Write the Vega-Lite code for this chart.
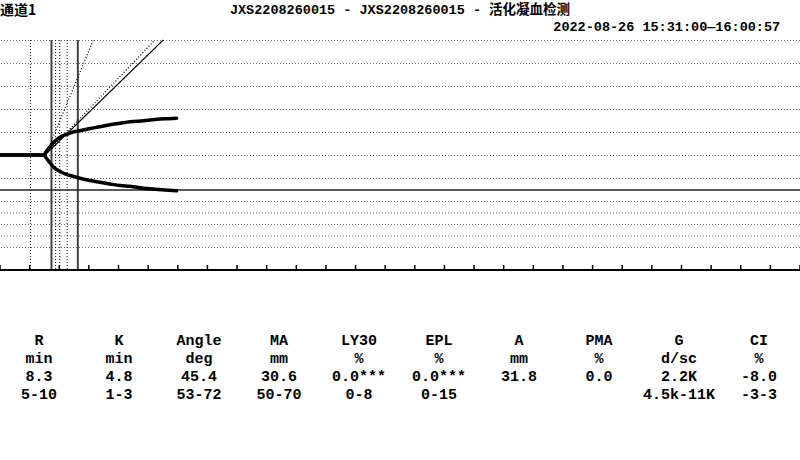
{
  "$schema": "https://vega.github.io/schema/vega-lite/v6.json",
  "width": 800,
  "height": 230,
  "autosize": "none",
  "padding": {"top": 40, "left": 0, "right": 0, "bottom": 190},
  "background": "white",
  "config": {"view": {"stroke": null}},
  "datasets": {
    "curve": [
      {"t": 0, "amp": 0, "branch": "upper"},
      {"t": 1.48, "amp": 0, "branch": "upper"},
      {"t": 1.55, "amp": 1.3, "branch": "upper"},
      {"t": 1.69, "amp": 3.6, "branch": "upper"},
      {"t": 1.82, "amp": 5.65, "branch": "upper"},
      {"t": 1.97, "amp": 7.26, "branch": "upper"},
      {"t": 2.09, "amp": 8.26, "branch": "upper"},
      {"t": 2.25, "amp": 9.0, "branch": "upper"},
      {"t": 2.43, "amp": 9.87, "branch": "upper"},
      {"t": 2.7, "amp": 10.57, "branch": "upper"},
      {"t": 3.04, "amp": 11.52, "branch": "upper"},
      {"t": 3.37, "amp": 12.3, "branch": "upper"},
      {"t": 3.71, "amp": 13.13, "branch": "upper"},
      {"t": 4.05, "amp": 13.78, "branch": "upper"},
      {"t": 4.39, "amp": 14.43, "branch": "upper"},
      {"t": 4.84, "amp": 14.91, "branch": "upper"},
      {"t": 5.23, "amp": 15.43, "branch": "upper"},
      {"t": 5.57, "amp": 15.74, "branch": "upper"},
      {"t": 5.96, "amp": 15.96, "branch": "upper"},
      {"t": 0, "amp": 0, "branch": "lower"},
      {"t": 1.48, "amp": 0, "branch": "lower"},
      {"t": 1.55, "amp": -1.09, "branch": "lower"},
      {"t": 1.69, "amp": -3.48, "branch": "lower"},
      {"t": 1.82, "amp": -5.43, "branch": "lower"},
      {"t": 1.97, "amp": -6.74, "branch": "lower"},
      {"t": 2.09, "amp": -7.6, "branch": "lower"},
      {"t": 2.25, "amp": -8.39, "branch": "lower"},
      {"t": 2.43, "amp": -9.13, "branch": "lower"},
      {"t": 2.7, "amp": -10.13, "branch": "lower"},
      {"t": 3.04, "amp": -11.09, "branch": "lower"},
      {"t": 3.37, "amp": -11.87, "branch": "lower"},
      {"t": 3.71, "amp": -12.6, "branch": "lower"},
      {"t": 4.05, "amp": -13.26, "branch": "lower"},
      {"t": 4.39, "amp": -13.6, "branch": "lower"},
      {"t": 4.84, "amp": -14.48, "branch": "lower"},
      {"t": 5.23, "amp": -14.91, "branch": "lower"},
      {"t": 5.57, "amp": -15.22, "branch": "lower"},
      {"t": 5.96, "amp": -15.57, "branch": "lower"}
    ],
    "grid": [
      {"g": 50}, {"g": 40}, {"g": 30}, {"g": 20}, {"g": 10}, {"g": 0},
      {"g": -10}, {"g": -20}, {"g": -25}, {"g": -30}, {"g": -35}, {"g": -40}
    ],
    "ticks": [
      {"t": 0, "lo": -50, "hi": -47.8}, {"t": 1, "lo": -50, "hi": -47.8}, {"t": 2, "lo": -50, "hi": -47.8}, {"t": 3, "lo": -50, "hi": -47.8},
      {"t": 4, "lo": -50, "hi": -47.8}, {"t": 5, "lo": -50, "hi": -47.8}, {"t": 6, "lo": -50, "hi": -47.8}, {"t": 7, "lo": -50, "hi": -47.8},
      {"t": 8, "lo": -50, "hi": -47.8}, {"t": 9, "lo": -50, "hi": -47.8}, {"t": 10, "lo": -50, "hi": -47.8}, {"t": 11, "lo": -50, "hi": -47.8},
      {"t": 12, "lo": -50, "hi": -47.8}, {"t": 13, "lo": -50, "hi": -47.8}, {"t": 14, "lo": -50, "hi": -47.8}, {"t": 15, "lo": -50, "hi": -47.8},
      {"t": 16, "lo": -50, "hi": -47.8}, {"t": 17, "lo": -50, "hi": -47.8}, {"t": 18, "lo": -50, "hi": -47.8}, {"t": 19, "lo": -50, "hi": -47.8},
      {"t": 20, "lo": -50, "hi": -47.8}, {"t": 21, "lo": -50, "hi": -47.8}, {"t": 22, "lo": -50, "hi": -47.8}, {"t": 23, "lo": -50, "hi": -47.8},
      {"t": 24, "lo": -50, "hi": -47.8}, {"t": 25, "lo": -50, "hi": -47.8}, {"t": 26, "lo": -50, "hi": -47.8}, {"t": 27, "lo": -50, "hi": -47.8}
    ],
    "vlines": [
      {"t": 1.01, "kind": "dotted"},
      {"t": 1.72, "kind": "solid"},
      {"t": 1.86, "kind": "dotted"},
      {"t": 2.0, "kind": "dotted"},
      {"t": 2.25, "kind": "dotted"},
      {"t": 2.61, "kind": "solid"}
    ],
    "hline": [{"amp": -15.2}],
    "base": [{"amp": -50}],
    "diag": [
      {"t": 1.52, "amp": 0, "line": "tangent", "kind": "solid"},
      {"t": 5.51, "amp": 50, "line": "tangent", "kind": "solid"},
      {"t": 1.52, "amp": 0, "line": "dotA", "kind": "dotted"},
      {"t": 5.23, "amp": 50, "line": "dotA", "kind": "dotted"},
      {"t": 1.54, "amp": 0, "line": "dotB", "kind": "dotted"},
      {"t": 3.15, "amp": 50, "line": "dotB", "kind": "dotted"}
    ],
    "table": [
      {"p": "R", "r": "name", "s": "R"},
      {"p": "R", "r": "unit", "s": "min"},
      {"p": "R", "r": "value", "s": "8.3"},
      {"p": "R", "r": "ref", "s": "5-10"},
      {"p": "K", "r": "name", "s": "K"},
      {"p": "K", "r": "unit", "s": "min"},
      {"p": "K", "r": "value", "s": "4.8"},
      {"p": "K", "r": "ref", "s": "1-3"},
      {"p": "Angle", "r": "name", "s": "Angle"},
      {"p": "Angle", "r": "unit", "s": "deg"},
      {"p": "Angle", "r": "value", "s": "45.4"},
      {"p": "Angle", "r": "ref", "s": "53-72"},
      {"p": "MA", "r": "name", "s": "MA"},
      {"p": "MA", "r": "unit", "s": "mm"},
      {"p": "MA", "r": "value", "s": "30.6"},
      {"p": "MA", "r": "ref", "s": "50-70"},
      {"p": "LY30", "r": "name", "s": "LY30"},
      {"p": "LY30", "r": "unit", "s": "%"},
      {"p": "LY30", "r": "value", "s": "0.0***"},
      {"p": "LY30", "r": "ref", "s": "0-8"},
      {"p": "EPL", "r": "name", "s": "EPL"},
      {"p": "EPL", "r": "unit", "s": "%"},
      {"p": "EPL", "r": "value", "s": "0.0***"},
      {"p": "EPL", "r": "ref", "s": "0-15"},
      {"p": "A", "r": "name", "s": "A"},
      {"p": "A", "r": "unit", "s": "mm"},
      {"p": "A", "r": "value", "s": "31.8"},
      {"p": "PMA", "r": "name", "s": "PMA"},
      {"p": "PMA", "r": "unit", "s": "%"},
      {"p": "PMA", "r": "value", "s": "0.0"},
      {"p": "G", "r": "name", "s": "G"},
      {"p": "G", "r": "unit", "s": "d/sc"},
      {"p": "G", "r": "value", "s": "2.2K"},
      {"p": "G", "r": "ref", "s": "4.5k-11K"},
      {"p": "CI", "r": "name", "s": "CI"},
      {"p": "CI", "r": "unit", "s": "%"},
      {"p": "CI", "r": "value", "s": "-8.0"},
      {"p": "CI", "r": "ref", "s": "-3-3"}
    ]
  },
  "layer": [
    {
      "layer": [
        {
          "data": {"name": "grid"},
          "mark": {"type": "rule", "color": "#707070", "strokeWidth": 1, "strokeDash": [1, 2], "yOffset": 0.5},
          "encoding": {
            "y": {"field": "g", "type": "quantitative", "scale": {"domain": [-50, 50], "nice": false, "zero": false}, "axis": null}
          }
        },
        {
          "data": {"name": "vlines"},
          "mark": {"type": "rule", "xOffset": 0.5},
          "encoding": {
            "x": {"field": "t", "type": "quantitative", "scale": {"domain": [0, 27], "nice": false, "zero": false}, "axis": null},
            "strokeDash": {"field": "kind", "type": "nominal", "scale": {"domain": ["solid", "dotted"], "range": [[1, 0], [1, 2]]}, "legend": null},
            "color": {"field": "kind", "type": "nominal", "scale": {"domain": ["solid", "dotted"], "range": ["#444444", "#111111"]}, "legend": null},
            "strokeWidth": {"field": "kind", "type": "ordinal", "scale": {"domain": ["solid", "dotted"], "range": [2, 1]}, "legend": null}
          }
        },
        {
          "data": {"name": "base"},
          "mark": {"type": "rule", "color": "#000000", "strokeWidth": 2},
          "encoding": {
            "y": {"field": "amp", "type": "quantitative"}
          }
        },
        {
          "data": {"name": "ticks"},
          "mark": {"type": "rule", "color": "#000000", "strokeWidth": 1.5},
          "encoding": {
            "x": {"field": "t", "type": "quantitative"},
            "y": {"field": "lo", "type": "quantitative"},
            "y2": {"field": "hi"}
          }
        },
        {
          "data": {"name": "hline"},
          "mark": {"type": "rule", "color": "#222222", "strokeWidth": 1.5},
          "encoding": {
            "y": {"field": "amp", "type": "quantitative"}
          }
        },
        {
          "data": {"name": "diag"},
          "mark": {"type": "line", "color": "#000000", "strokeWidth": 1.2},
          "encoding": {
            "x": {"field": "t", "type": "quantitative"},
            "y": {"field": "amp", "type": "quantitative"},
            "detail": {"field": "line", "type": "nominal"},
            "strokeDash": {"field": "kind", "type": "nominal"}
          }
        },
        {
          "data": {"name": "curve"},
          "mark": {"type": "line", "color": "#000000", "strokeWidth": 3.5, "interpolate": "monotone", "strokeCap": "round"},
          "encoding": {
            "x": {"field": "t", "type": "quantitative"},
            "y": {"field": "amp", "type": "quantitative"},
            "detail": {"field": "branch", "type": "nominal"}
          }
        },
        {
          "data": {"values": [{"label": "通道1"}]},
          "mark": {"type": "text", "align": "left", "baseline": "middle", "dy": -29, "font": "Noto Sans CJK SC", "fontWeight": "bold", "fontSize": 14, "color": "#000"},
          "encoding": {
            "x": {"datum": 0, "type": "quantitative"},
            "y": {"datum": 50, "type": "quantitative"},
            "text": {"field": "label"}
          }
        },
        {
          "data": {"values": [{"label": "JXS2208260015 - JXS2208260015 - 活化凝血检测"}]},
          "mark": {"type": "text", "align": "center", "baseline": "middle", "dy": -30, "font": "Liberation Mono, Noto Sans CJK SC", "fontWeight": "bold", "fontSize": 13.5, "color": "#000"},
          "encoding": {
            "x": {"datum": 13.5, "type": "quantitative"},
            "y": {"datum": 50, "type": "quantitative"},
            "text": {"field": "label"}
          }
        },
        {
          "data": {"values": [{"label": "2022-08-26 15:31:00—16:00:57"}]},
          "mark": {"type": "text", "align": "right", "baseline": "middle", "dy": -13, "font": "Liberation Mono, Noto Sans CJK SC", "fontWeight": "bold", "fontSize": 13.5, "color": "#000"},
          "encoding": {
            "x": {"datum": 26.33, "type": "quantitative"},
            "y": {"datum": 50, "type": "quantitative"},
            "text": {"field": "label"}
          }
        }
      ]
    },
    {
      "data": {"name": "table"},
      "mark": {"type": "text", "font": "Liberation Mono", "fontSize": 15, "fontWeight": "bold", "baseline": "middle", "align": "center", "dx": -1, "color": "#000"},
      "encoding": {
        "x": {"field": "p", "type": "nominal", "scale": {"type": "band", "domain": ["R", "K", "Angle", "MA", "LY30", "EPL", "A", "PMA", "G", "CI"], "paddingInner": 0, "paddingOuter": 0}, "axis": null},
        "y": {"field": "r", "type": "ordinal", "scale": {"type": "point", "domain": ["name", "unit", "value", "ref"], "range": [300, 354], "padding": 0}, "axis": null},
        "text": {"field": "s"}
      }
    }
  ],
  "resolve": {"scale": {"x": "independent", "y": "independent"}}
}
